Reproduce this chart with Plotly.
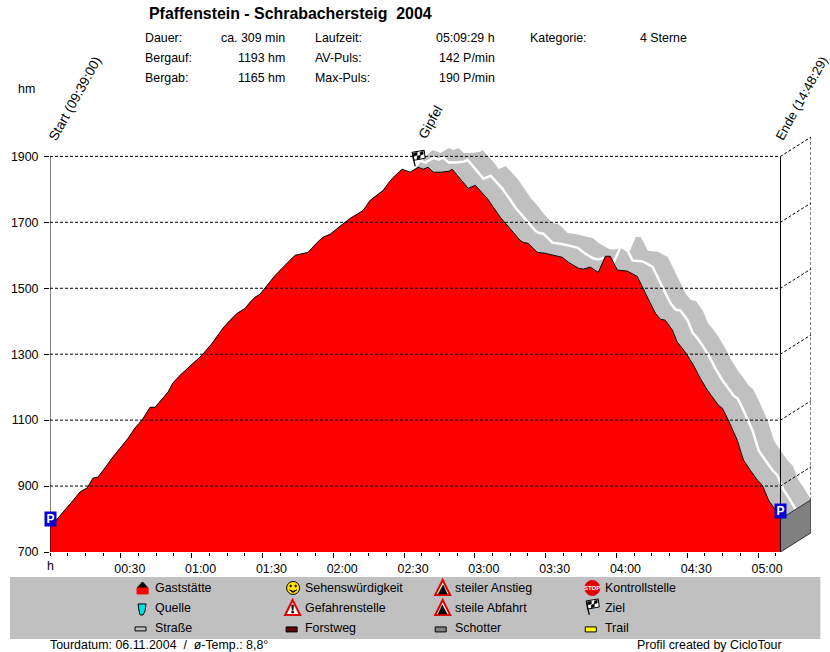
import plotly.graph_objects as go

# profile: minutes since start, height in hm
minutes = [0, 6.4, 9.3, 12.7, 15.7, 18.2, 20.3, 23.3, 26.3, 29.7, 33.1, 36.0, 39.0, 42.4, 44.5, 50.0, 52.0, 55.1,
           60.6, 64.4, 68.7, 73.3, 76.3, 79.3, 82.7, 84.8, 86.9, 89.0, 95.4, 98.3, 101.7, 103.9, 109.4, 113.2,
           115.7, 118.7, 120.0, 122.9, 127.2, 132.7, 135.7, 141.2, 143.3, 145.4, 149.2, 152.6, 156.0, 158.1,
           160.2, 162.4, 165.7, 169.1, 170.4, 174.6, 177.2, 180.2, 185.2, 190.8, 193.7, 196.3, 199.2, 200.5,
           202.6, 204.3, 206.4, 209.8, 214.9, 217.0, 219.6, 221.7, 223.8, 225.9, 228.9, 232.3, 235.3, 237.4,
           240.4, 244.6, 248.8, 253.1, 256.5, 258.6, 260.7, 263.7, 265.8, 267.9, 270.0, 272.6, 275.5, 278.5,
           281.1, 283.2, 284.9, 287.4, 291.2, 292.5, 293.8, 296.7, 299.7, 301.8, 303.1, 304.4, 306.5, 309.5]
height = [775, 827, 852, 882, 894, 924, 927, 955, 985, 1015, 1045, 1076, 1100, 1139, 1139, 1185, 1212, 1236,
          1273, 1297, 1333, 1379, 1403, 1424, 1439, 1458, 1473, 1482, 1539, 1561, 1585, 1600, 1609, 1639,
          1655, 1664, 1672, 1688, 1712, 1736, 1767, 1797, 1818, 1836, 1861, 1852, 1867, 1861,
          1867, 1852, 1852, 1855, 1861, 1827, 1803, 1812, 1773, 1715, 1691, 1667, 1645, 1639,
          1636, 1624, 1609, 1606, 1597, 1594, 1579, 1570, 1561, 1558, 1564, 1548, 1597, 1597,
          1555, 1552, 1536, 1473, 1424, 1406, 1403, 1373, 1336, 1318, 1297, 1267, 1227, 1191,
          1167, 1145, 1136, 1100, 1039, 1009, 979, 948, 918, 903, 879, 858, 836, 800]

y_ticks = [700, 900, 1100, 1300, 1500, 1700, 1900]
x_ticks = [0, 30, 60, 90, 120, 150, 180, 210, 240, 270, 300]
x_labels = ["", "00:30", "01:00", "01:30", "02:00", "02:30", "03:00", "03:30", "04:00", "04:30", "05:00"]
x_minor = [i * 7.5 for i in range(42)]
summit = 156.0

info_rows = [
    ("Dauer:", "ca. 309 min", "Laufzeit:", "05:09:29 h", "Kategorie:", "4 Sterne"),
    ("Bergauf:", "1193 hm", "AV-Puls:", "142 P/min", "", ""),
    ("Bergab:", "1165 hm", "Max-Puls:", "190 P/min", "", ""),
]
legend_names = [
    ["Gaststätte", "Quelle", "Straße"],
    ["Sehenswürdigkeit", "Gefahrenstelle", "Forstweg"],
    ["steiler Anstieg", "steile Abfahrt", "Schotter"],
    ["Kontrollstelle", "Ziel", "Trail"],
]

# scale of the drawing
PX_MIN = 2.359
PX_HM = 0.33
DEPTH_MIN = 30.5 / PX_MIN
DEPTH_HM = 19.3 / PX_HM
T_END = minutes[-1]
Y_TOP = 1980
LEFT, BOTTOM = 50, 552
PLOT_W = (T_END + DEPTH_MIN) * PX_MIN
PLOT_H = (Y_TOP - y_ticks[0]) * PX_HM
FONT = "Liberation Sans"
FS = 12.4


def fx(px):
    return (px - LEFT) / PLOT_W


def fy(py):
    return (BOTTOM - py) / PLOT_H


def text(px, py, s, size=FS, anchor="left", angle=0, color="black"):
    return dict(x=fx(px), y=fy(py), xref="paper", yref="paper", text=s, showarrow=False,
                xanchor=anchor, yanchor="middle", textangle=angle, align="left", borderpad=0, borderwidth=0,
                font=dict(family=FONT, size=size, color=color))


def poly(pts, fill, line="black", width=1):
    path = "M" + "L".join(f"{fx(a):.5f},{fy(b):.5f}" for a, b in pts) + "Z"
    return dict(type="path", path=path, xref="paper", yref="paper", fillcolor=fill,
                line=dict(color=line, width=width))


def disc(cx, cy, r, fill, line="black", width=1):
    return dict(type="circle", xref="paper", yref="paper", x0=fx(cx - r), x1=fx(cx + r),
                y0=fy(cy + r), y1=fy(cy - r), fillcolor=fill, line=dict(color=line, width=width))


def flag(x, y):
    # small checkered flag on a pole, x/y = foot of the pole
    out = [poly([(x, y), (x - 2, y - 8), (x - 3, y - 14), (x - 3, y - 14)], "black", "black", 1.2)]
    out.append(poly([(x - 3, y - 14), (x + 9, y - 16), (x + 10, y - 8), (x - 1, y - 6)], "white", "black", 1))
    out.append(poly([(x - 2, y - 13), (x + 2, y - 14), (x + 2, y - 11), (x - 2, y - 10)], "black", "black", 0.5))
    out.append(poly([(x + 5, y - 14), (x + 8, y - 15), (x + 8, y - 12), (x + 5, y - 11)], "black", "black", 0.5))
    out.append(poly([(x + 2, y - 10), (x + 5, y - 11), (x + 5, y - 8), (x + 2, y - 7)], "black", "black", 0.5))
    return out


def warn(x, y, inner):
    # red warning triangle, x = left, y = bottom
    out = [poly([(x, y), (x + 7.5, y - 15), (x + 15, y)], "white", "#e00000", 2)]
    if inner == "up":
        out.append(poly([(x + 3, y - 1), (x + 8, y - 10), (x + 12, y - 1)], "black", "black", 0.5))
    elif inner == "down":
        out.append(poly([(x + 3, y - 1), (x + 7, y - 10), (x + 12, y - 1)], "black", "black", 0.5))
    else:
        out.append(poly([(x + 6.5, y - 10), (x + 8.5, y - 10), (x + 8, y - 5), (x + 7, y - 5)], "black", "black", 0.5))
        out.append(poly([(x + 6.5, y - 4), (x + 8.5, y - 4), (x + 8.5, y - 2), (x + 6.5, y - 2)], "black", "black", 0.5))
    return out


back_x = [t + DEPTH_MIN for t in minutes]
back_y = [h + DEPTH_HM for h in height]
mid_x = [t + DEPTH_MIN / 2 for t in minutes]
mid_y = [h + DEPTH_HM / 2 for h in height]

fig = go.Figure()
# gray track ribbon with the white path in the middle
fig.add_trace(go.Scatter(x=minutes + back_x[::-1], y=height + back_y[::-1], fill="toself",
                         fillcolor="#c0c0c0", mode="none"))
fig.add_trace(go.Scatter(x=mid_x, y=mid_y, mode="lines", line=dict(color="white", width=2.5)))
# end wall
fig.add_trace(go.Scatter(x=[T_END, T_END + DEPTH_MIN, T_END + DEPTH_MIN, T_END, T_END],
                         y=[y_ticks[0], y_ticks[0] + DEPTH_HM, height[-1] + DEPTH_HM, height[-1], y_ticks[0]],
                         fill="toself", fillcolor="#808080", mode="lines", line=dict(color="#303030", width=1)))
# red profile
fig.add_trace(go.Scatter(x=minutes, y=height, fill="tozeroy", fillcolor="#ff0000", mode="lines",
                         line=dict(color="black", width=1)))

# dashed grid, running back into the depth at the right
grid_x, grid_y = [], []
for lvl in y_ticks[1:]:
    grid_x += [0, T_END, T_END + DEPTH_MIN, None]
    grid_y += [lvl, lvl, lvl + DEPTH_HM, None]
grid_x += [T_END + DEPTH_MIN, T_END + DEPTH_MIN]
grid_y += [y_ticks[-1] + DEPTH_HM, height[-1] + DEPTH_HM]
fig.add_trace(go.Scatter(x=grid_x, y=grid_y, mode="lines", line=dict(color="black", width=1, dash="3px,2px")))

# solid axes at start and end
fig.add_trace(go.Scatter(x=[0, 0, None, T_END, T_END], y=[y_ticks[0], y_ticks[-1], None, y_ticks[0], y_ticks[-1]],
                         mode="lines", line=dict(color="black", width=1)))

annotations = [
    text(149, 13, "<b>Pfaffenstein - Schrabachersteig  2004</b>", size=15.9),
    text(18, 89, "hm"),
    text(75, 98, "Start (09:39:00)", size=13.5, anchor="center", angle=-61),
    text(430, 122, "Gipfel", size=13.5, anchor="center", angle=-61),
    text(801, 98, "Ende (14:48:29)", size=13, anchor="center", angle=-61),
    text(50, 566, "h", anchor="center"),
    text(50, 645, "Tourdatum: 06.11.2004  /  ø-Temp.: 8,8°"),
    text(637, 645, "Profil created by CicloTour"),
]
for row, vals in enumerate(info_rows):
    y = 37.5 + row * 20
    annotations.append(text(145, y, vals[0]))
    annotations.append(text(285, y, vals[1], anchor="right"))
    annotations.append(text(315, y, vals[2]))
    annotations.append(text(495, y, vals[3], anchor="right"))
    if vals[4]:
        annotations.append(text(530, y, vals[4]))
        annotations.append(text(640, y, vals[5]))
for col, names in enumerate(legend_names):
    for row, name in enumerate(names):
        annotations.append(text(155 + col * 150, 588 + row * 20, name))
annotations.append(text(592, 588, "<b>STOP</b>", size=6, anchor="center", color="white"))

# parking signs sit on the profile at both ends
for t, h in [(minutes[0], height[0]), (minutes[-1], height[-1])]:
    annotations.append(dict(x=t, y=h, xref="x", yref="y", text="<b>P</b>", showarrow=False,
                            xanchor="center", yanchor="bottom", width=11, height=14, bgcolor="#0000d0",
                            borderpad=0, font=dict(family=FONT, size=12, color="white")))

shapes = [dict(type="rect", xref="paper", yref="paper", x0=fx(10), x1=fx(820), y0=fy(639), y1=fy(577),
               fillcolor="#c0c0c0", line=dict(width=0), layer="below")]
# summit flag
summit_h = height[minutes.index(summit)]
shapes += flag(LEFT + summit * PX_MIN - 3, BOTTOM - (summit_h - y_ticks[0]) * PX_HM - 1)

# legend icons
shapes.append(poly([(137, 588), (142.5, 582), (148, 588)], "black"))
shapes.append(poly([(137, 588), (148, 588), (148, 594), (137, 594)], "#ff0000", "#ff0000"))
shapes.append(poly([(138, 604), (146, 604), (145, 611), (143, 615), (140, 615), (139, 611)], "#00e0e0"))
shapes.append(poly([(135, 627), (146, 627), (146, 631), (135, 631)], "#c0c0c0"))
shapes.append(disc(293, 588, 6.5, "#ffe000"))
shapes.append(disc(290.5, 586, 0.8, "black"))
shapes.append(disc(295.5, 586, 0.8, "black"))
shapes.append(poly([(289.5, 590), (293, 592.5), (296.5, 590), (293, 591.5)], "black"))
shapes += warn(285, 615, "mark")
shapes.append(poly([(286, 627), (297, 627), (297, 632), (286, 632)], "#600000"))
shapes += warn(435, 595, "up")
shapes += warn(435, 615, "down")
shapes.append(poly([(435, 627), (446, 627), (446, 632), (435, 632)], "#808080"))
shapes.append(disc(592, 588, 7.5, "#e00000", "#e00000"))
shapes += flag(589, 615)
shapes.append(poly([(585, 627), (596, 627), (596, 632), (585, 632)], "#ffff00"))

fig.update_layout(
    width=830,
    height=652,
    autosize=False,
    showlegend=False,
    paper_bgcolor="white",
    plot_bgcolor="white",
    margin=dict(l=LEFT, r=830 - LEFT - PLOT_W, t=BOTTOM - PLOT_H, b=652 - BOTTOM, pad=0),
    annotations=annotations,
    shapes=shapes,
    xaxis=dict(range=[0, T_END + DEPTH_MIN], tickvals=x_ticks, ticktext=x_labels, ticks="outside", ticklen=5,
               tickcolor="black", showgrid=False, zeroline=False, showline=False, ticklabelshift=9,
               tickfont=dict(family=FONT, size=FS, color="black"),
               minor=dict(tickvals=x_minor, ticks="outside", ticklen=3, tickcolor="black", showgrid=False)),
    yaxis=dict(range=[y_ticks[0], Y_TOP], tickvals=y_ticks, ticks="outside", ticklen=5, tickcolor="black",
               showgrid=False, zeroline=False, showline=False, ticklabelstandoff=3,
               tickfont=dict(family=FONT, size=FS, color="black")),
)

fig.write_html("out.html", post_script="document.body.style.margin='0';", config=dict(displayModeBar=False))
